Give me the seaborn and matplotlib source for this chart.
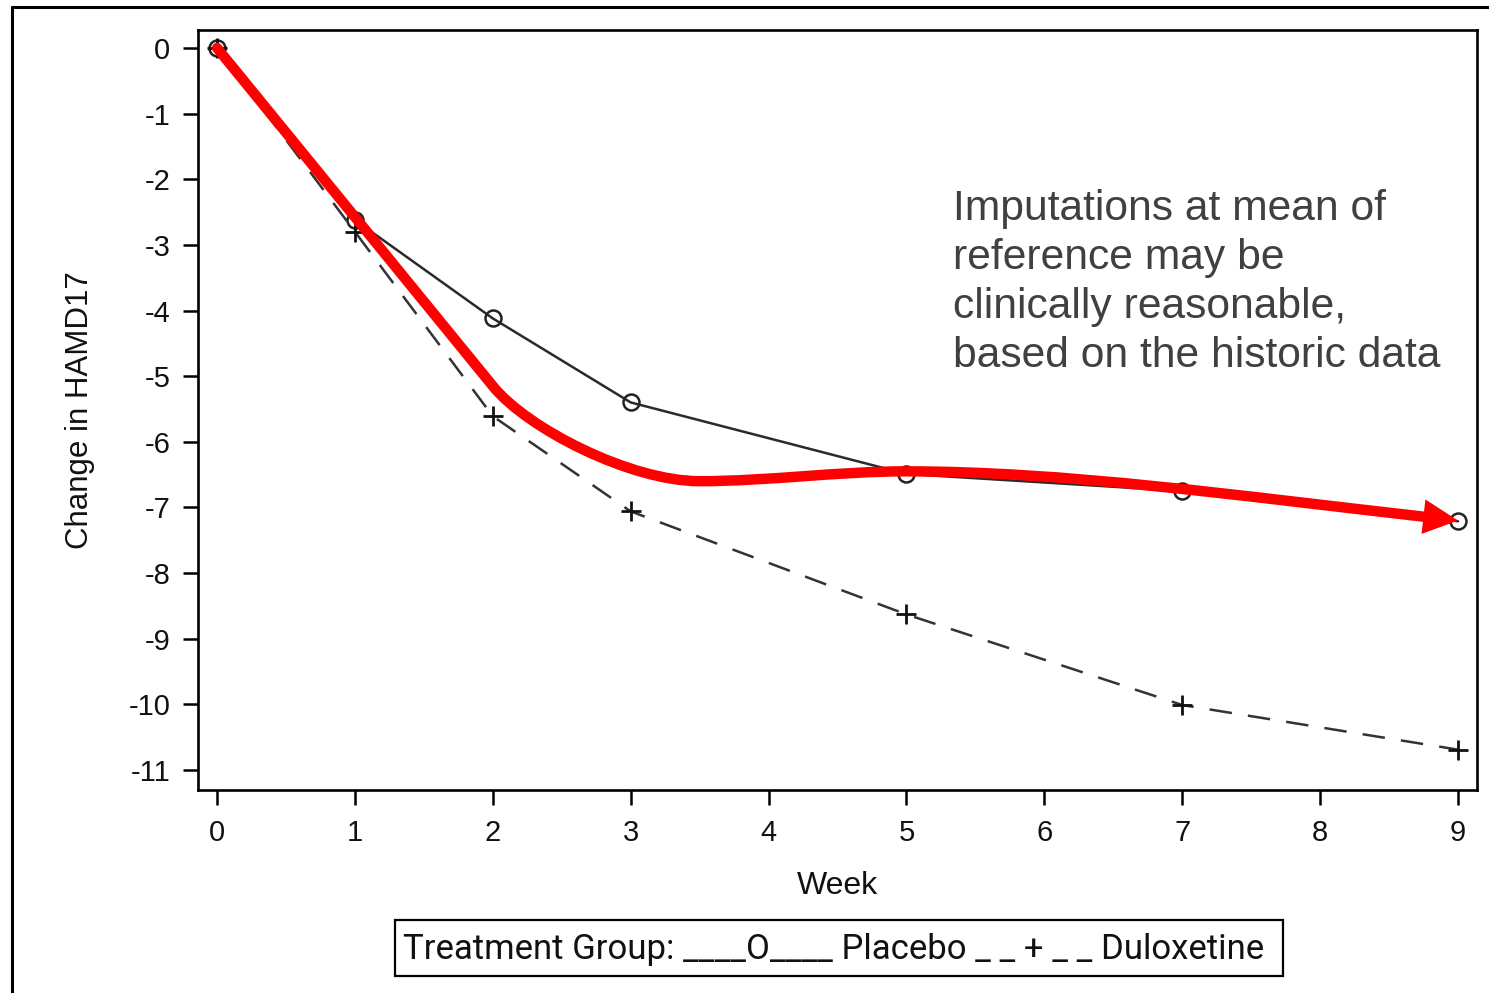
import matplotlib
matplotlib.use("Agg")
import matplotlib.pyplot as plt
from matplotlib.path import Path
from matplotlib.patches import FancyArrowPatch, PathPatch, Rectangle
from matplotlib.lines import Line2D
import numpy as np
import seaborn as sns
import pandas as pd

# Mean change from baseline in HAMD17 by week
weeks = [0, 1, 2, 3, 5, 7, 9]
placebo = [0.0, -2.62, -4.12, -5.40, -6.49, -6.75, -7.21]
duloxetine = [0.0, -2.80, -5.61, -7.06, -8.63, -10.01, -10.69]

x_ticks = [0, 1, 2, 3, 4, 5, 6, 7, 8, 9]
y_ticks = [0, -1, -2, -3, -4, -5, -6, -7, -8, -9, -10, -11]

# Hand-drawn trajectory for imputed values (cubic Bezier control points)
trend_x = [0.0, 0.67, 1.33, 2.0, 2.25, 3.0, 3.5, 4.0, 4.5, 5.0, 6.2, 7.5, 9.0]
trend_y = [0.0, -1.72, -3.43, -5.15, -5.80, -6.60, -6.60, -6.60, -6.45, -6.45, -6.45, -6.85, -7.20]

note = ("Imputations at mean of\nreference may be\n"
        "clinically reasonable,\nbased on the historic data")
legend_text = "Treatment Group: ____O____ Placebo _ _ + _ _ Duloxetine"

sns.set_style("white")
plt.rcParams["font.family"] = ["Liberation Sans", "DejaVu Sans"]

W, H = 1489, 993
fig = plt.figure(figsize=(W / 100, H / 100), dpi=100)
ax = fig.add_axes([198 / W, 1 - 790 / H, (1477 - 198) / W, (790 - 30) / H])

df_p = pd.DataFrame({"Week": weeks, "Change": placebo})
df_d = pd.DataFrame({"Week": weeks, "Change": duloxetine})

sns.lineplot(data=df_p, x="Week", y="Change", ax=ax, color="#2a2a2a",
             linewidth=1.8, marker="o", markersize=11.5, markerfacecolor="none",
             markeredgecolor="#222222", markeredgewidth=1.8)
sns.lineplot(data=df_d, x="Week", y="Change", ax=ax, color="#333333",
             linewidth=1.8, linestyle=(0, (9, 6.5)), marker="+",
             markersize=14, markeredgecolor="#111111", markeredgewidth=2.0)

ax.set_xlim(-0.138, 9.138)
ax.set_ylim(-11.305, 0.274)

# Red arrow following the reference-based trajectory.
# The shaft stops just short of the tip (last Bezier segment split with
# de Casteljau) so a separate, crisp head can sit exactly on the end point.
pts = np.column_stack([trend_x, trend_y])
p0, p1, p2, p3 = pts[-4], pts[-3], pts[-2], pts[-1]
t = 0.955
a, b, c = p0 + t * (p1 - p0), p1 + t * (p2 - p1), p2 + t * (p3 - p2)
d, e = a + t * (b - a), b + t * (c - b)
f = d + t * (e - d)
shaft = np.vstack([pts[:-3], a, d, f])
codes = [Path.MOVETO] + [Path.CURVE4] * (len(shaft) - 1)
ax.add_patch(PathPatch(Path(shaft, codes), facecolor="none", edgecolor="#ff0000",
                       linewidth=7.5, capstyle="round", joinstyle="round",
                       zorder=5))

head = FancyArrowPatch(posA=tuple(f), posB=tuple(p3),
                       arrowstyle="-|>,head_length=25,head_width=12.5",
                       mutation_scale=1, color="#ff0000", linewidth=0,
                       shrinkA=0, shrinkB=0, zorder=6)
ax.add_patch(head)

ax.set_xticks(x_ticks)
ax.set_yticks(y_ticks)
ax.set_xticklabels([str(v) for v in x_ticks])
ax.set_yticklabels([str(v) for v in y_ticks])

ax.tick_params(axis="both", direction="out", length=11, width=1.8,
               color="black", labelsize=21, labelcolor="#111111",
               left=True, bottom=True)
ax.tick_params(axis="y", pad=9)
ax.tick_params(axis="x", pad=10)
for s in ax.spines.values():
    s.set_visible(True)
    s.set_color("black")
    s.set_linewidth(1.9)

ax.set_xlabel("Week", fontsize=23, color="#111111", labelpad=17)
ax.set_ylabel("Change in HAMD17", fontsize=22.5, color="#111111")
ax.yaxis.set_label_coords(-(198 - 95) / (1477 - 198), 0.5)

fig.text(953 / W, 1 - 189 / H, note, fontsize=30.7, color="#404040",
         ha="left", va="top", linespacing=1.29)

# Text legend in a box below the plot
fig.add_artist(Rectangle((395 / W, 1 - 976 / H), 888 / W, 56 / H,
                         transform=fig.transFigure, fill=False,
                         edgecolor="black", linewidth=1.6))
fig.text(834 / W, 1 - 949 / H, legend_text, fontsize=25,
         family=["Roboto", "Liberation Sans", "DejaVu Sans"],
         color="#111111", ha="center", va="center")

# Outer frame lines
fig.add_artist(Line2D([12 / W, 12 / W], [0, 1 - 7 / H], transform=fig.transFigure,
                      color="black", linewidth=2.2))
fig.add_artist(Line2D([12 / W, 1], [1 - 7 / H, 1 - 7 / H], transform=fig.transFigure,
                      color="black", linewidth=2.2))

fig.savefig("out.png", dpi=100)
